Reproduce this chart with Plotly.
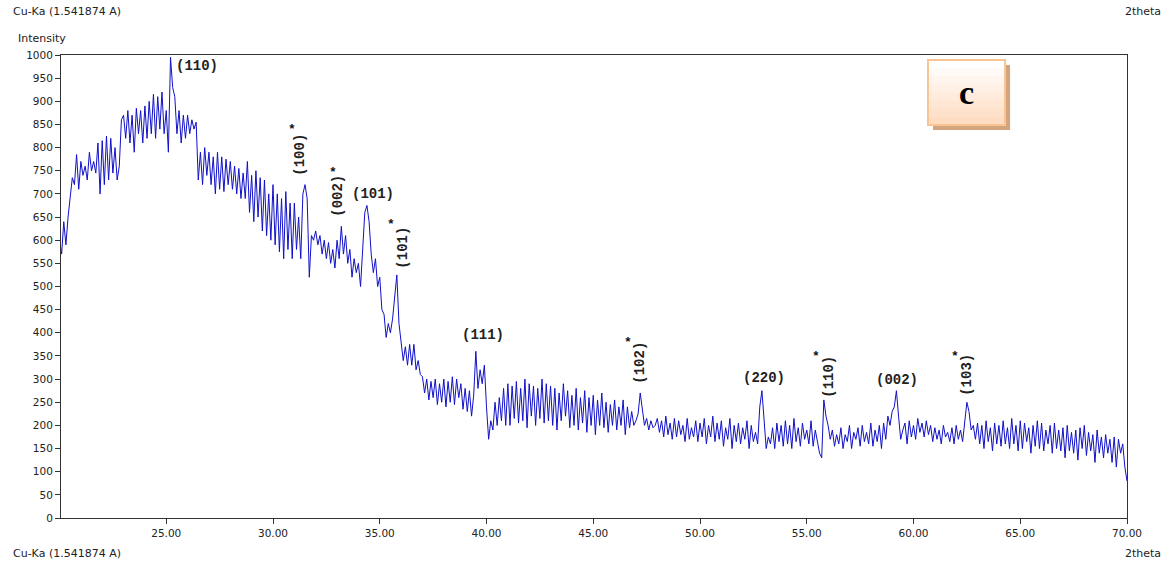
import plotly.graph_objects as go

# ---- data (2theta from 20.0 to 70.0 in 0.1 deg steps) ----
two_theta_start = 20.0
two_theta_step = 0.1
intensity = [
    600, 570, 640, 590, 650, 700, 735, 720, 785, 710,
    770, 740, 760, 730, 790, 750, 770, 745, 810, 700,
    815, 720, 825, 730, 820, 745, 800, 730, 760, 860,
    870, 820, 880, 810, 870, 790, 885, 830, 880, 810,
    890, 820, 900, 830, 915, 820, 910, 840, 920, 830,
    880, 790, 995, 930, 910, 830, 880, 810, 870, 820,
    870, 830, 860, 840, 855, 730, 790, 720, 800, 740,
    790, 720, 780, 700, 790, 710, 780, 705, 775, 720,
    770, 710, 760, 700, 755, 690, 745, 690, 770, 660,
    740, 640, 750, 650, 735, 620, 730, 610, 700, 600,
    720, 590, 700, 575, 690, 560, 705, 580, 680, 560,
    680, 580, 650, 560, 700, 720, 690, 520, 610, 600,
    620, 590, 610, 570, 600, 560, 595, 550, 580, 540,
    600, 560, 630, 570, 610, 550, 580, 520, 560, 530,
    550, 500, 580, 660, 675, 640, 570, 530, 560, 500,
    520, 450, 440, 390, 420, 400, 430, 480, 525, 420,
    380, 340, 370, 330, 375, 330, 375, 320, 340, 310,
    305, 270, 300, 255, 295, 260, 300, 245, 290, 250,
    300, 240, 295, 250, 305, 245, 300, 260, 290, 235,
    280, 230, 275, 220, 265, 360, 280, 320, 290, 330,
    240, 170, 210, 190, 250, 200, 260, 210, 280, 200,
    290, 200, 285, 215, 295, 205, 280, 210, 300, 195,
    290, 220, 285, 200, 280, 215, 300, 205, 290, 210,
    285, 200, 280, 190, 270, 210, 290, 220, 275, 195,
    265, 200, 280, 190, 260, 205, 275, 185, 260, 200,
    265, 180, 255, 200, 270, 195, 250, 185, 245, 200,
    255, 190, 240, 200, 255, 180, 240, 195, 230, 200,
    210, 225, 270, 230, 200, 215, 190, 210, 195, 200,
    215, 185, 210, 175, 220, 180, 205, 170, 215, 175,
    210, 180, 200, 165, 215, 170, 195, 175, 210, 165,
    205, 175, 215, 160, 200, 175, 220, 165, 205, 170,
    210, 155, 195, 170, 215, 150, 200, 165, 205, 160,
    195, 170, 210, 150, 200, 165, 185, 160, 240, 275,
    220, 150, 175, 160, 195, 150, 205, 165, 200, 155,
    210, 160, 200, 150, 215, 165, 195, 155, 205, 170,
    190, 160, 210, 155, 190, 165, 140, 130, 255, 220,
    200, 170, 190, 155, 180, 160, 195, 150, 180, 165,
    200, 150, 185, 170, 195, 155, 200, 165, 185, 160,
    205, 155, 190, 165, 200, 150, 205, 170, 220, 200,
    230, 240, 275, 220, 170, 190, 205, 160, 210, 175,
    200, 170, 215, 185, 205, 175, 210, 180, 200, 165,
    195, 170, 190, 160, 200, 175, 185, 165, 195, 160,
    200, 170, 190, 165, 210, 250, 230, 190, 200, 170,
    205, 160, 200, 150, 210, 165, 195, 145, 205, 160,
    200, 155, 210, 160, 195, 150, 215, 160, 200, 145,
    210, 150, 205, 165, 195, 140, 200, 155, 210, 150,
    205, 145, 190, 160, 200, 140, 205, 150, 190, 145,
    195, 130, 200, 145, 185, 140, 190, 125, 195, 150,
    200, 135, 185, 145, 180, 120, 190, 140, 175, 130,
    180, 140, 170, 120, 175, 110, 170, 140, 160, 110,
    80,
]
two_theta = [round(two_theta_start + i * two_theta_step, 2) for i in range(len(intensity))]

x_tick_values = [25, 30, 35, 40, 45, 50, 55, 60, 65, 70]
x_tick_labels = ["25.00", "30.00", "35.00", "40.00", "45.00", "50.00", "55.00", "60.00", "65.00", "70.00"]
y_tick_values = list(range(0, 1001, 50))

# peak labels
peak_labels = ["(110)", "(100)", "(002)", "(101)", "(101)", "(111)", "(102)", "(220)", "(110)", "(002)", "(103)"]
peak_label_x = [26.42, 31.25, 33.07, 34.67, 36.07, 39.82, 47.18, 52.99, 56.04, 59.22, 62.50]
peak_label_y = [976, 784, 695, 700, 583, 395, 335, 302, 305, 298, 309]
peak_rotated = [False, True, True, False, True, False, True, False, True, False, True]
star_x = [None, 30.87, 32.79, None, 35.51, None, 46.62, None, 55.43, None, 61.94]
star_y = [None, 840, 747, None, 633, None, 378, None, 348, None, 348]

fig = go.Figure()
fig.add_trace(go.Scatter(
    x=two_theta, y=intensity, mode="lines",
    line=dict(color="#1010c8", width=1),
    hoverinfo="skip", showlegend=False,
))

ann_font = dict(family="Liberation Mono", size=14, color="#222222")
for i, txt in enumerate(peak_labels):
    fig.add_annotation(
        x=peak_label_x[i], y=peak_label_y[i], xref="x", yref="y",
        text="<b>" + txt + "</b>", showarrow=False,
        textangle=-90 if peak_rotated[i] else 0,
        font=ann_font, xanchor="center", yanchor="middle",
    )
    if star_x[i] is not None:
        fig.add_annotation(
            x=star_x[i], y=star_y[i], xref="x", yref="y",
            text="<b>*</b>", showarrow=False,
            font=dict(family="Liberation Mono", size=13, color="#111111"),
            xanchor="center", yanchor="middle",
        )

lab_font = dict(family="DejaVu Sans", size=11, color="#222222")
fig.add_annotation(x=-0.0469, y=1.0929, xref="paper", yref="paper", text="Cu-Ka (1.541874 A)",
                   showarrow=False, xanchor="left", yanchor="middle", font=lab_font)
fig.add_annotation(x=-0.0422, y=1.0367, xref="paper", yref="paper", text="Intensity",
                   showarrow=False, xanchor="left", yanchor="middle", font=lab_font)
fig.add_annotation(x=1.0338, y=1.0929, xref="paper", yref="paper", text="2theta",
                   showarrow=False, xanchor="right", yanchor="middle", font=lab_font)
fig.add_annotation(x=-0.0469, y=-0.0756, xref="paper", yref="paper", text="Cu-Ka (1.541874 A)",
                   showarrow=False, xanchor="left", yanchor="middle", font=lab_font)
fig.add_annotation(x=1.0338, y=-0.0756, xref="paper", yref="paper", text="2theta",
                   showarrow=False, xanchor="right", yanchor="middle", font=lab_font)

# "c" panel box with shadow and gradient
bx0, bx1, by0, by1 = 0.8133, 0.8856, 0.8488, 0.9892
fig.add_shape(type="rect", xref="paper", yref="paper", x0=bx0 + 0.0047, x1=bx1 + 0.0047,
              y0=by0 - 0.0108, y1=by1 - 0.0108, fillcolor="#d4a47e", line=dict(width=0), layer="above")
grad = ["#ffffff", "#fffaf6", "#fff5ee", "#fff0e5", "#ffebdc", "#fee6d3", "#fee1ca", "#fddcc1"]
n = len(grad)
h = (by1 - by0) / n
for k, col in enumerate(grad):
    top = by1 - k * h
    bot = max(by0, by1 - (k + 1) * h - 0.006)
    fig.add_shape(type="rect", xref="paper", yref="paper", x0=bx0, x1=bx1,
                  y0=bot, y1=top, fillcolor=col, line=dict(width=0), layer="above")
fig.add_shape(type="rect", xref="paper", yref="paper", x0=bx0, x1=bx1, y0=by0, y1=by1,
              fillcolor="rgba(0,0,0,0)", line=dict(color="#f9c491", width=2), layer="above")
fig.add_annotation(x=(bx0 + bx1) / 2, y=(by0 + by1) / 2, xref="paper", yref="paper", text="<b>c</b>",
                   showarrow=False, font=dict(family="Liberation Serif", size=34, color="#000000"),
                   xanchor="center", yanchor="middle")

fig.update_layout(
    width=1165, height=564,
    margin=dict(l=61, r=38, t=55, b=46),
    paper_bgcolor="white", plot_bgcolor="white",
    showlegend=False,
    xaxis=dict(range=[20.07, 70.0], tickvals=x_tick_values, ticktext=x_tick_labels,
               showgrid=False, zeroline=False, showline=True, linecolor="#333333", linewidth=1,
               mirror=True, ticks="outside", ticklen=5, tickcolor="#333333",
               tickfont=dict(family="DejaVu Sans", size=10.5, color="#222222")),
    yaxis=dict(range=[0, 1000], tickvals=y_tick_values,
               showgrid=False, zeroline=False, showline=True, linecolor="#333333", linewidth=1,
               mirror=True, ticks="outside", ticklen=5, tickcolor="#333333",
               tickfont=dict(family="DejaVu Sans", size=10.5, color="#222222")),
)

fig.write_html("out.html", config={"displayModeBar": False},
               post_script="document.body.style.margin='0px';document.body.style.overflow='hidden';")
